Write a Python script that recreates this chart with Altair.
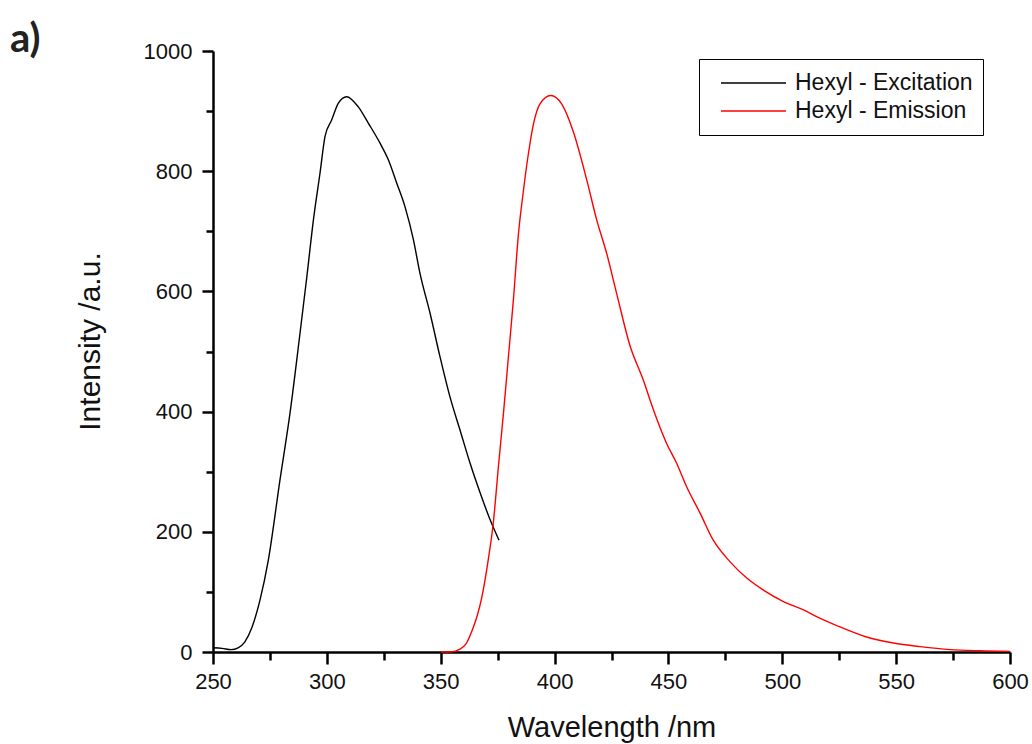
import altair as alt
import pandas as pd

# --- data ---
series_names = ["Hexyl - Excitation", "Hexyl - Emission"]
series_colors = ["black", "red"]

exc_wl = [250, 254, 258, 261, 264, 267, 270.6, 274.3, 279.4, 283.8, 288.2, 291.2,
          294.1, 297, 299.2, 302.1, 305, 308.7, 313.8, 318.2, 323.3, 327,
          330.7, 334.3, 338, 340.9, 345.3, 349.7, 354.1, 358.5, 362.9, 367.3,
          371.7, 375.6]
exc_int = [7, 6, 4, 7, 17, 40, 86, 153, 286, 397, 530, 624,
           719, 797, 858, 885, 913, 924, 907, 880, 847, 819,
           780, 741, 686, 630, 564, 491, 424, 369, 314, 265,
           220, 186]

emi_wl = [350, 355, 358, 361, 364, 366, 368, 370.9, 373.1, 375.3, 377.5, 379.7,
          381.9, 384.1, 386.3, 388.5, 390.7, 393.6, 398.3, 403.1, 408.2, 414.1,
          418.5, 422.9, 427.3, 433.1, 439, 443.4, 449.2, 453.6, 458, 463.9,
          469.7, 477.1, 484.4, 491.7, 500.5, 509.3, 516.7, 523.9, 537, 548.8,
          560.5, 573.7, 586.8, 600]
emi_int = [0, 0.5, 4, 13, 38, 60, 90, 154, 215, 307, 395, 490,
           585, 694, 767, 829, 878, 912, 926, 912, 866, 786,
           719, 663, 596, 510, 452, 403, 347, 314, 275, 231,
           186, 150, 123, 103, 84, 70, 56, 44, 25, 15,
           9, 4, 2, 1]

x_major = [250, 300, 350, 400, 450, 500, 550, 600]
x_minor = [275, 325, 375, 425, 475, 525, 575]
y_major = [0, 200, 400, 600, 800, 1000]
y_minor = [100, 300, 500, 700, 900]

df = pd.concat([
    pd.DataFrame({"wl": exc_wl, "intensity": exc_int, "series": series_names[0]}),
    pd.DataFrame({"wl": emi_wl, "intensity": emi_int, "series": series_names[1]}),
], ignore_index=True)

FONT = "Liberation Sans"
TXT = "#111111"

xscale = alt.Scale(domain=[250, 600], nice=False, zero=False)
yscale = alt.Scale(domain=[0, 1000], nice=False)

x_axis_major = alt.Axis(
    values=x_major, orient="bottom", grid=False, format="d",
    tickSize=12, tickWidth=2.5, tickColor="black",
    domainColor="black", domainWidth=2.5,
    labelFont=FONT, labelFontSize=22, labelColor=TXT, labelPadding=7,
    labelFlush=False, labelOverlap=False,
    title="Wavelength /nm", titleFont=FONT, titleFontSize=29,
    titleFontWeight="normal", titleColor=TXT, titlePadding=21,
)
y_axis_major = alt.Axis(
    values=y_major, orient="left", grid=False, format="d",
    tickSize=11, tickWidth=2.5, tickColor="black",
    domainColor="black", domainWidth=2.5,
    labelFont=FONT, labelFontSize=22, labelColor=TXT, labelPadding=10,
    labelFlush=False, labelOverlap=False,
    title="Intensity /a.u.", titleFont=FONT, titleFontSize=30,
    titleFontWeight="normal", titleColor=TXT, titlePadding=38, titleY=290,
)
x_axis_minor = alt.Axis(
    values=x_minor, orient="bottom", grid=False, labels=False, domain=False,
    tickSize=8, tickWidth=2.5, tickColor="black", title=None,
)
y_axis_minor = alt.Axis(
    values=y_minor, orient="left", grid=False, labels=False, domain=False,
    tickSize=7, tickWidth=2.5, tickColor="black", title=None,
)

lines = alt.Chart(df).mark_line(strokeWidth=1.4, interpolate="monotone").encode(
    x=alt.X("wl:Q", scale=xscale, axis=x_axis_major),
    y=alt.Y("intensity:Q", scale=yscale, axis=y_axis_major),
    color=alt.Color(
        "series:N",
        scale=alt.Scale(domain=series_names, range=series_colors),
        sort=series_names,
        legend=alt.Legend(
            title=None, orient="none", legendX=486, legendY=8,
            symbolType="stroke", symbolSize=4225, symbolStrokeWidth=1.5,
            symbolOffset=11, clipHeight=28, rowPadding=0,
            labelFont=FONT, labelFontSize=23, labelColor=TXT, labelOffset=8,
            labelLimit=400,
            padding=10, strokeColor="black", fillColor="white",
        ),
    ),
    detail="series:N",
)

minor = alt.Chart(df).mark_point(opacity=0).encode(
    x=alt.X("wl:Q", scale=xscale, axis=x_axis_minor),
    y=alt.Y("intensity:Q", scale=yscale, axis=y_axis_minor),
)

chart = alt.layer(minor, lines).resolve_axis(
    x="independent", y="independent"
).properties(
    width=797, height=601,
    autosize="none",
    padding={"left": 213, "top": 51, "right": 22, "bottom": 92},
    title=alt.Title(
        "a)", anchor="start", frame="group", dx=-203, dy=53, offset=1,
        baseline="alphabetic", font="Lato", fontSize=40, fontWeight="bold",
        color="#222222",
    ),
).configure_view(stroke=None)

chart.save("out.html", embed_options={"renderer": "svg", "actions": False})
